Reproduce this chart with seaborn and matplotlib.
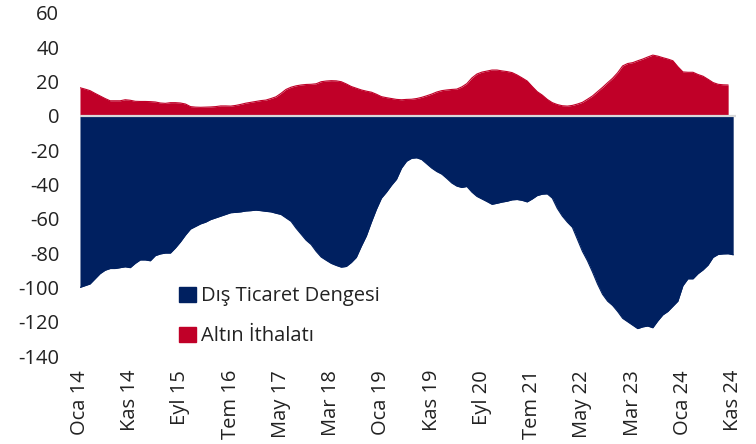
import numpy as np
import pandas as pd
import seaborn as sns
import matplotlib.pyplot as plt
from matplotlib.patches import Patch

# Monthly data, Oca 14 .. Kas 24
tick_labels = ["Oca 14", "Kas 14", "Eyl 15", "Tem 16", "May 17", "Mar 18", "Oca 19",
               "Kas 19", "Eyl 20", "Tem 21", "May 22", "Mar 23", "Oca 24", "Kas 24"]

dis_ticaret = [
    -100, -99, -98, -95, -92, -90, -89, -89, -88.5, -88,
    -88.5, -86, -84, -84, -84.5, -81.5, -80.5, -80, -80, -77,
    -73.5, -69.5, -66, -64.5, -63, -62, -60.5, -59.5, -58.5, -57.5,
    -56.5, -56.3, -56, -55.5, -55.3, -55, -55.3, -55.7, -56, -56.8,
    -57.5, -59.5, -61.5, -65.5, -69, -72.5, -75, -79, -82.3, -84.2,
    -86, -87.2, -88.2, -87.8, -85.5, -82.5, -76, -70, -62, -54.5,
    -48, -44.5, -40.5, -37, -30.5, -26.5, -24.8, -24.5, -25.5, -28,
    -30.5, -32.5, -34, -36.5, -39.2, -41, -41.8, -41.2, -44.5, -47,
    -48.5, -50, -51.6, -51, -50.3, -49.8, -49, -48.8, -49.3, -50.2,
    -48.5, -46.5, -45.7, -45.5, -48, -54, -58.5, -62, -65, -72,
    -79, -84.5, -91, -98, -104, -108, -110.5, -114, -118, -120,
    -122, -124, -123, -122.5, -123.5, -119.5, -116, -114, -111, -108,
    -99, -95, -95, -92, -89.8, -87, -82.5, -80.8, -80.5, -80.4,
    -81,
]

altin = [
    16.3, 15.5, 14.6, 13, 11.5, 10, 8.7, 8.7, 8.7, 9.3,
    9, 8.4, 8.3, 8.3, 8.2, 8, 7.4, 7.2, 7.6, 7.6,
    7.4, 6.8, 5.3, 5, 4.9, 5, 5.1, 5.3, 5.7, 5.7,
    5.6, 6, 6.6, 7.3, 7.8, 8.3, 8.8, 9.1, 10, 11,
    13, 15.3, 16.6, 17.4, 17.9, 18.2, 18.3, 18.6, 19.8, 20.2,
    20.4, 20.3, 19.8, 18.5, 17, 16, 15, 14.3, 13.7, 12.5,
    11.1, 10.5, 10, 9.5, 9.3, 9.5, 9.6, 10, 10.7, 11.6,
    12.6, 13.8, 14.6, 15, 15.3, 15.5, 16.8, 18.7, 22, 24.3,
    25.4, 26, 26.6, 26.6, 26.1, 25.7, 25.1, 23.7, 22, 20.2,
    17, 14, 12, 9.5, 7.6, 6.5, 5.8, 5.6, 6, 6.8,
    7.8, 9.6, 11.5, 14, 16.5, 19.2, 21.8, 25, 29, 30.4,
    30.9, 32, 33, 34.2, 35.3, 34.7, 33.8, 33, 32, 28.5,
    25.5, 25.3, 25.3, 24, 23, 21.2, 19.3, 18.3, 18, 17.9,
    np.nan,
]

df = pd.DataFrame({"t": np.arange(len(dis_ticaret)),
                   "Dış Ticaret Dengesi": dis_ticaret,
                   "Altın İthalatı": altin})

navy = "#002060"
red = "#C00028"
fs = 14.5

sns.set_theme(style="white")
plt.rcParams["font.family"] = ["Open Sans", "DejaVu Sans"]
plt.rcParams["axes.unicode_minus"] = False

fig = plt.figure(figsize=(7.56, 4.44), dpi=100)
ax = fig.add_axes([0.1058, 0.198, 0.868, 0.7734])

sns.lineplot(data=df, x="t", y="Dış Ticaret Dengesi", color=navy, lw=0.8, ax=ax)
sns.lineplot(data=df, x="t", y="Altın İthalatı", color=red, lw=0.8, ax=ax)
ax.fill_between(df["t"], df["Dış Ticaret Dengesi"], 0, color=navy, lw=0)
ax.fill_between(df["t"], df["Altın İthalatı"], 0, color=red, lw=0)
ax.axhline(0, color="#d9d9d9", lw=1.6, zorder=5)

ax.set_xlim(0, 130.6)
ax.set_ylim(-140, 60)
ax.set_yticks(range(-140, 61, 20))
ax.set_xticks(range(0, 131, 10))
ax.set_xticklabels(tick_labels, rotation=90)
ax.tick_params(axis="y", length=0, pad=15, labelsize=fs, labelcolor="#222222")
ax.tick_params(axis="x", length=0, pad=10, labelsize=fs, labelcolor="#222222")
ax.set_xlabel("")
ax.set_ylabel("")
sns.despine(ax=ax, left=True, bottom=True)

handles = [Patch(color=navy, label="Dış Ticaret Dengesi"),
           Patch(color=red, label="Altın İthalatı")]
ax.legend(handles=handles, loc="upper left", bbox_to_anchor=(0.124, 0.256),
          frameon=False, fontsize=fs, handlelength=0.8, handleheight=0.8,
          handletextpad=0.25, labelspacing=1.0, labelcolor="#222222")

fig.savefig("out.png", dpi=100)
